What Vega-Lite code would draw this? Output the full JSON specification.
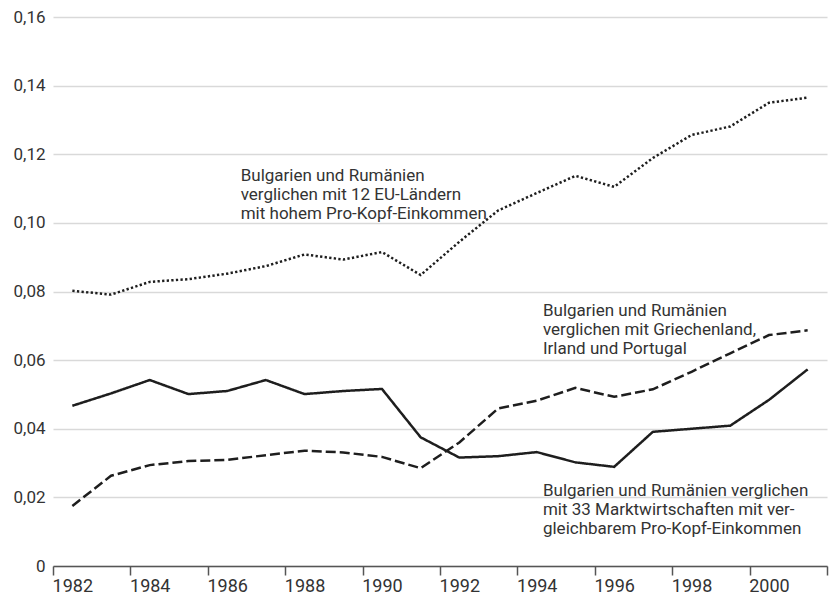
{
  "$schema": "https://vega.github.io/schema/vega-lite/v6.json",
  "width": 774,
  "height": 549,
  "autosize": "none",
  "padding": {"left": 53, "top": 17, "right": 8, "bottom": 29},
  "background": "white",
  "config": {
    "view": {"stroke": null},
    "font": "Roboto"
  },
  "layer": [
    {
      "data": {
        "values": [
          {"year": 1982, "series": "EU12", "value": 0.0802},
          {"year": 1983, "series": "EU12", "value": 0.0791},
          {"year": 1984, "series": "EU12", "value": 0.0828},
          {"year": 1985, "series": "EU12", "value": 0.0836},
          {"year": 1986, "series": "EU12", "value": 0.0852},
          {"year": 1987, "series": "EU12", "value": 0.0874},
          {"year": 1988, "series": "EU12", "value": 0.0908},
          {"year": 1989, "series": "EU12", "value": 0.0893},
          {"year": 1990, "series": "EU12", "value": 0.0915},
          {"year": 1991, "series": "EU12", "value": 0.0848},
          {"year": 1992, "series": "EU12", "value": 0.0945},
          {"year": 1993, "series": "EU12", "value": 0.1036},
          {"year": 1994, "series": "EU12", "value": 0.1087},
          {"year": 1995, "series": "EU12", "value": 0.1137},
          {"year": 1996, "series": "EU12", "value": 0.1105},
          {"year": 1997, "series": "EU12", "value": 0.1189},
          {"year": 1998, "series": "EU12", "value": 0.1256},
          {"year": 1999, "series": "EU12", "value": 0.1281},
          {"year": 2000, "series": "EU12", "value": 0.135},
          {"year": 2001, "series": "EU12", "value": 0.1365},
          {"year": 1982, "series": "GIP", "value": 0.0175},
          {"year": 1983, "series": "GIP", "value": 0.0263},
          {"year": 1984, "series": "GIP", "value": 0.0294},
          {"year": 1985, "series": "GIP", "value": 0.0306},
          {"year": 1986, "series": "GIP", "value": 0.0309},
          {"year": 1987, "series": "GIP", "value": 0.0323},
          {"year": 1988, "series": "GIP", "value": 0.0336},
          {"year": 1989, "series": "GIP", "value": 0.0331},
          {"year": 1990, "series": "GIP", "value": 0.0318},
          {"year": 1991, "series": "GIP", "value": 0.0285},
          {"year": 1992, "series": "GIP", "value": 0.036},
          {"year": 1993, "series": "GIP", "value": 0.0459},
          {"year": 1994, "series": "GIP", "value": 0.0482},
          {"year": 1995, "series": "GIP", "value": 0.0519},
          {"year": 1996, "series": "GIP", "value": 0.0493},
          {"year": 1997, "series": "GIP", "value": 0.0515},
          {"year": 1998, "series": "GIP", "value": 0.0566},
          {"year": 1999, "series": "GIP", "value": 0.062},
          {"year": 2000, "series": "GIP", "value": 0.0673},
          {"year": 2001, "series": "GIP", "value": 0.0687},
          {"year": 1982, "series": "MW33", "value": 0.0467},
          {"year": 1983, "series": "MW33", "value": 0.0503},
          {"year": 1984, "series": "MW33", "value": 0.0542},
          {"year": 1985, "series": "MW33", "value": 0.0501},
          {"year": 1986, "series": "MW33", "value": 0.051},
          {"year": 1987, "series": "MW33", "value": 0.0542},
          {"year": 1988, "series": "MW33", "value": 0.0501},
          {"year": 1989, "series": "MW33", "value": 0.051},
          {"year": 1990, "series": "MW33", "value": 0.0516},
          {"year": 1991, "series": "MW33", "value": 0.0375},
          {"year": 1992, "series": "MW33", "value": 0.0316},
          {"year": 1993, "series": "MW33", "value": 0.032},
          {"year": 1994, "series": "MW33", "value": 0.0332},
          {"year": 1995, "series": "MW33", "value": 0.0302},
          {"year": 1996, "series": "MW33", "value": 0.0289},
          {"year": 1997, "series": "MW33", "value": 0.0391},
          {"year": 1998, "series": "MW33", "value": 0.04},
          {"year": 1999, "series": "MW33", "value": 0.0409},
          {"year": 2000, "series": "MW33", "value": 0.0484},
          {"year": 2001, "series": "MW33", "value": 0.0573}
        ]
      },
      "mark": {"type": "line", "strokeWidth": 2.5, "color": "#1e1e1e", "strokeJoin": "miter"},
      "encoding": {
        "x": {
          "field": "year",
          "type": "quantitative",
          "scale": {"domain": [1981.5, 2001.5], "nice": false, "zero": false},
          "axis": {
            "title": null,
            "values": [1981.5, 1982.5, 1983.5, 1984.5, 1985.5, 1986.5, 1987.5, 1988.5, 1989.5, 1990.5, 1991.5, 1992.5, 1993.5, 1994.5, 1995.5, 1996.5, 1997.5, 1998.5, 1999.5, 2000.5, 2001.5],
            "labelExpr": "((datum.value + 0.5) % 2 == 0 && datum.value < 2001) ? format(datum.value + 0.5, 'd') : ''",
            "labelOffset": 19.35,
            "labelAlign": "center",
            "labelBaseline": "alphabetic",
            "labelOverlap": false,
            "labelFlush": false,
            "labelBound": false,
            "grid": false,
            "domainColor": "#555555",
            "domainWidth": 1.5,
            "tickColor": "#555555",
            "tickWidth": 1.5,
            "tickSize": 9,
            "labelFontSize": 18,
            "labelColor": "#333333",
            "labelPadding": 16
          }
        },
        "y": {
          "field": "value",
          "type": "quantitative",
          "scale": {"domain": [0, 0.16], "nice": false},
          "axis": {
            "title": null,
            "values": [0, 0.02, 0.04, 0.06, 0.08, 0.1, 0.12, 0.14, 0.16],
            "labelExpr": "datum.value == 0 ? '0' : replace(format(datum.value, '.2f'), '.', ',')",
            "domain": false,
            "ticks": false,
            "grid": true,
            "gridColor": "#d9d9d9",
            "gridWidth": 1.5,
            "labelFontSize": 17,
            "labelColor": "#333333",
            "labelPadding": 8
          }
        },
        "strokeDash": {
          "field": "series",
          "type": "nominal",
          "scale": {"domain": ["EU12", "GIP", "MW33"], "range": [[2.3, 2.3], [10, 4], [1, 0]]},
          "legend": null
        },
        "detail": {"field": "series"}
      }
    },
    {
      "data": {
        "values": [
          {"year": 1986.35, "value": 0.1121, "label": "Bulgarien und Rumänien\nverglichen mit 12 EU-Ländern\nmit hohem Pro-Kopf-Einkommen"},
          {"year": 1994.16, "value": 0.0728, "label": "Bulgarien und Rumänien\nverglichen mit Griechenland,\nIrland und Portugal"},
          {"year": 1994.16, "value": 0.0204, "label": "Bulgarien und Rumänien verglichen\nmit 33 Marktwirtschaften mit ver-\ngleichbarem Pro-Kopf-Einkommen"}
        ]
      },
      "mark": {"type": "text", "align": "left", "baseline": "alphabetic", "fontSize": 17, "lineHeight": 19, "color": "#333333", "lineBreak": "\n"},
      "encoding": {
        "x": {"field": "year", "type": "quantitative"},
        "y": {"field": "value", "type": "quantitative"},
        "text": {"field": "label"}
      }
    }
  ]
}
